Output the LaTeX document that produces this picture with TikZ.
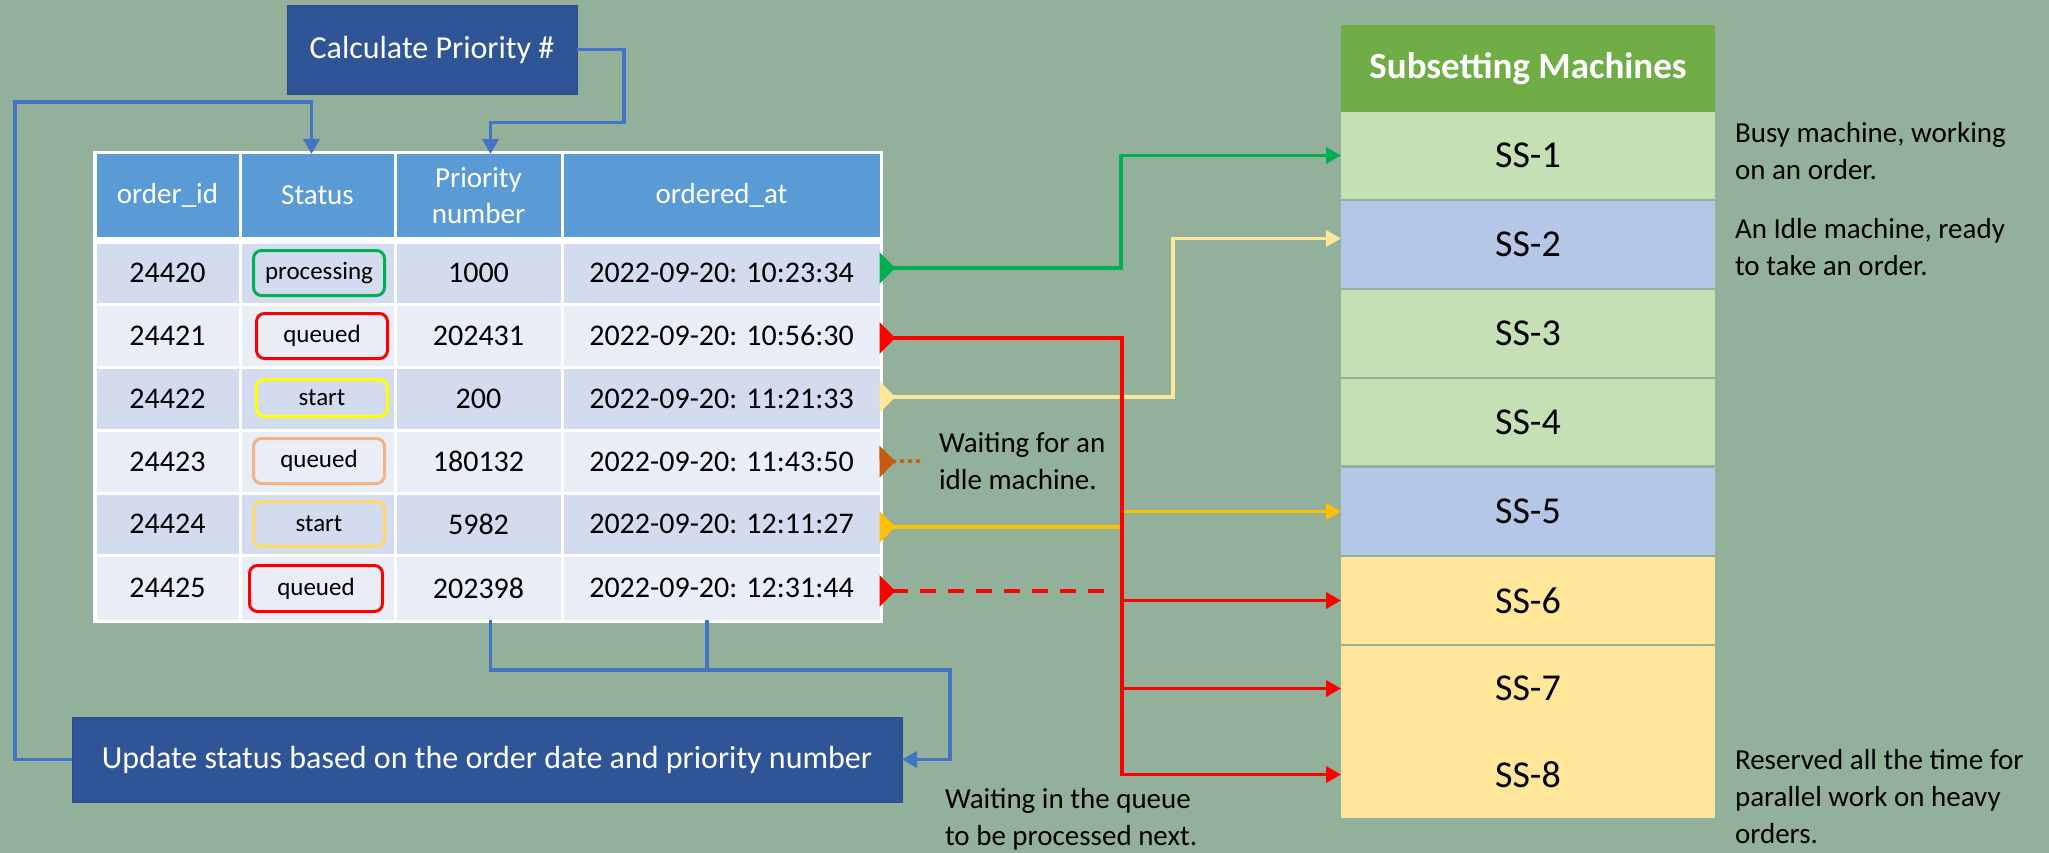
\documentclass[tikz,border=0pt]{standalone}
\usepackage{fontspec}
\setmainfont{Carlito}
\usetikzlibrary{arrows.meta,calc}
\definecolor{bg}{HTML}{93B19A}
\definecolor{darkblue}{HTML}{2F5597}
\definecolor{cblue}{HTML}{4472C4}
\definecolor{hdr}{HTML}{5B9BD5}
\definecolor{rowA}{HTML}{D2DCEE}
\definecolor{rowB}{HTML}{E9EEF6}
\definecolor{cgreen}{HTML}{00B050}
\definecolor{cyel}{HTML}{FFE699}
\definecolor{corange}{HTML}{FFC000}
\definecolor{cdot}{HTML}{C55A11}
\definecolor{cred}{HTML}{FF0000}
\definecolor{mgreen}{HTML}{C5E0B4}
\definecolor{mblue}{HTML}{B4C7E7}
\definecolor{myellow}{HTML}{FFE699}
\definecolor{mhead}{HTML}{70AD47}
\definecolor{bpeach}{HTML}{F4B183}
\definecolor{bgold}{HTML}{FFD966}
\definecolor{byel}{HTML}{FFFF00}
\tikzset{
  headtip/.tip={Triangle[length=15pt,width=16pt]},
  tailtip/.tip={Triangle[reversed,length=16pt,width=31pt]},
  cell/.style={fill=#1, inner sep=0pt, outer sep=0pt, font=\fontsize{30}{36}\selectfont},
  hcell/.style={fill=hdr, text=white, inner sep=0pt, outer sep=0pt, align=center, font=\fontsize{29}{36}\selectfont},
  badge/.style={draw=#1, line width=3pt, rounded corners=8pt, inner sep=0pt, minimum width=131pt, minimum height=45pt, font=\fontsize{25}{30}\selectfont},
  mach/.style={fill=#1, inner sep=0pt, outer sep=0pt, minimum width=374pt, font=\fontsize{38}{44}\selectfont},
  procbox/.style={fill=darkblue, draw=darkblue!90!black, line width=0.8pt, text=white, inner sep=0pt, outer sep=0pt, font=\fontsize{32}{38}\selectfont},
  note/.style={align=left, inner sep=0pt, outer sep=0pt, font=\fontsize{29}{37}\selectfont},
  conn/.style={line width=3.5pt},
}
\begin{document}
\begin{tikzpicture}[x=1pt,y=-1pt]
\fill[bg] (0,0) rectangle (2049,853);
\useasboundingbox (0,0) rectangle (2049,853);

% process boxes
\node[procbox, minimum width=290pt, minimum height=89pt] (calc) at (432,49.5) {Calculate Priority \#};
\node[procbox, minimum width=830pt, minimum height=85pt] (upd) at (487,759.5) {Update status based on the order date and priority number};

% table
\fill[white] (93,151) rectangle (883,623);
\node[hcell, minimum width=142pt, minimum height=83pt] (h1) at (167.5,195.5) {order\_id};
\node[hcell, minimum width=152pt, minimum height=83pt] (h2) at (317.5,195.5) {Status};
\node[hcell, minimum width=164pt, minimum height=83pt] (h3) at (478.5,195.5) {Priority\\number};
\node[hcell, minimum width=316pt, minimum height=83pt] (h4) at (721.5,195.5) {ordered\_at};
\foreach \r/\cy/\h/\f/\id/\pr/\dt in {
  1/273/59/rowA/24420/1000/{2022-09-20: 10:23:34},
  2/335.5/60/rowB/24421/202431/{2022-09-20: 10:56:30},
  3/398.5/60/rowA/24422/200/{2022-09-20: 11:21:33},
  4/461.5/60/rowB/24423/180132/{2022-09-20: 11:43:50},
  5/524/59/rowA/24424/5982/{2022-09-20: 12:11:27},
  6/588/63/rowB/24425/202398/{2022-09-20: 12:31:44}}{
  \node[cell=\f, minimum width=142pt, minimum height=\h pt] (i\r) at (167.5,\cy) {\id};
  \node[cell=\f, minimum width=152pt, minimum height=\h pt] (s\r) at (317.5,\cy) {};
  \node[cell=\f, minimum width=164pt, minimum height=\h pt] (p\r) at (478.5,\cy) {\pr};
  \node[cell=\f, minimum width=316pt, minimum height=\h pt] (d\r) at (721.5,\cy) {\dt};
}
% status badges
\node[badge=cgreen] (b1) at (319,273) {processing};
\node[badge=cred] (b2) at (322,336) {queued};
\node[badge=byel, minimum height=37pt] (b3) at (322,398) {start};
\node[badge=bpeach] (b4) at (319,461) {queued};
\node[badge=bgold] (b5) at (319,524) {start};
\node[badge=cred, minimum width=133pt, minimum height=46pt] (b6) at (316,588.5) {queued};

% machines
\node[mach=mhead, minimum height=87pt, text=white, font=\fontsize{37}{44}\selectfont\bfseries] (m0) at (1528,68.5) {Subsetting Machines};
\node[mach=mgreen, minimum height=87pt] (m1) at (1528,155.5) {SS-1};
\node[mach=mblue, minimum height=87pt] (m2) at (1528,244.5) {SS-2};
\node[mach=mgreen, minimum height=87pt] (m3) at (1528,333.5) {SS-3};
\node[mach=mgreen, minimum height=86pt] (m4) at (1528,422) {SS-4};
\node[mach=mblue, minimum height=87pt] (m5) at (1528,511.5) {SS-5};
\node[mach=myellow, minimum height=87pt] (m6) at (1528,600.5) {SS-6};
\node[mach=myellow, minimum height=85pt] (m7) at (1528,688.5) {SS-7};
\node[mach=myellow, minimum height=87pt] (m8) at (1528,774.5) {SS-8};

% notes (base anchor = baseline of last line)
\node[note, anchor=base west] (n1) at (1735,180) {Busy machine, working\\on an order.};
\node[note, anchor=base west] (n2) at (1735,275) {An Idle machine, ready\\to take an order.};
\node[note, anchor=base west] (n3) at (1735,843) {Reserved all the time for\\parallel work on heavy\\orders.};
\node[note, anchor=base west] (n4) at (939,489) {Waiting for an\\idle machine.};
\node[note, anchor=base west] (n5) at (945,845) {Waiting in the queue\\to be processed next.};

% helper coordinates
\coordinate (gx) at (1121,0);
\coordinate (yx) at (1173,0);
\coordinate (rx) at (1122,0);
\coordinate (lc) at (15,102);
\coordinate (br) at (950,670);
\coordinate (dashend) at (1113,591);
\coordinate (dotend) at (920,461);

% blue connectors
\draw[conn, cblue, -{headtip}] (calc.east) -- ++(47,0) -- ++(0,73) -| ([xshift=12pt]h3.north);
\draw[conn, cblue, -{headtip}] (upd.west) -| (lc) -| ([xshift=-6pt]h2.north);
\draw[conn, cblue, -{headtip}] ([xshift=12pt]p6.south) |- (br) |- (upd.east);
\draw[conn, cblue] ([xshift=-14.5pt]d6.south) -- ([xshift=-14.5pt]d6.south |- br);

% machine connectors
\draw[conn, cgreen, {tailtip}-{headtip}] ([yshift=5pt]d1.east) -- ([yshift=5pt]d1.east -| gx) |- (m1.west);
\draw[conn, cyel, {tailtip}-{headtip}] ([yshift=1.5pt]d3.east) -- ([yshift=1.5pt]d3.east -| yx) |- ([yshift=6pt]m2.west);
\draw[conn, corange, {tailtip}-{headtip}] ([yshift=-3pt]d5.east) -- ([yshift=-3pt]d5.east -| rx) -- (m5.west -| rx) -- (m5.west);
\draw[conn, cdot, {tailtip}-, dash pattern=on 4pt off 4pt] (d4.east) -- (dotend);
\draw[conn, cred, {tailtip}-, dash pattern=on 16pt off 12pt] ([yshift=-3pt]d6.east) -- (dashend);
\draw[conn, cred, {tailtip}-{headtip}] ([yshift=-2.5pt]d2.east) -- ([yshift=-2.5pt]d2.east -| rx) |- (m8.west);
\draw[conn, cred, -{headtip}] (m6.west -| rx) -- (m6.west);
\draw[conn, cred, -{headtip}] (m7.west -| rx) -- (m7.west);
\end{tikzpicture}
\end{document}
